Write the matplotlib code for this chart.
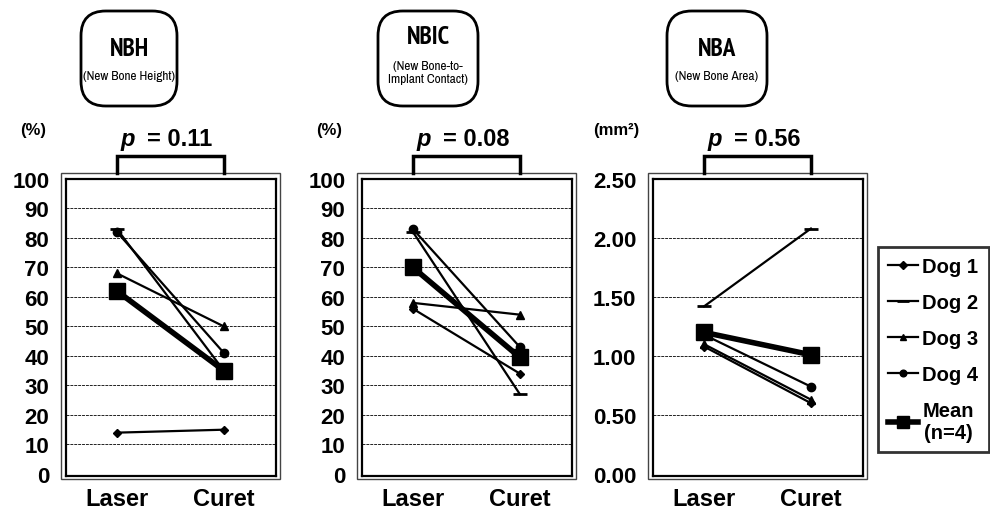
import numpy as np
import matplotlib
matplotlib.use('Agg')
import matplotlib.pyplot as plt
import matplotlib.font_manager as fm
from matplotlib.patches import Rectangle, FancyBboxPatch
from matplotlib.lines import Line2D
from matplotlib.transforms import ScaledTranslation

# data
categories = ['Laser', 'Curet']
dog_labels = ['Dog 1', 'Dog 2', 'Dog 3', 'Dog 4']

nbh_laser = [14, 83, 68, 82]
nbh_curet = [15, 35, 50, 41]
nbh_mean = [62, 35]

nbic_laser = [56, 82, 58, 83]
nbic_curet = [34, 27, 54, 43]
nbic_mean = [70, 39.5]

nba_laser = [1.08, 1.42, 1.10, 1.18]
nba_curet = [0.60, 2.08, 0.63, 0.74]
nba_mean = [1.20, 1.01]

p_values = ['0.11', '0.08', '0.56']
titles = ['NBH', 'NBIC', 'NBA']
subtitles = ['(New Bone Height)', '(New Bone-to-\nImplant Contact)', '(New Bone Area)']
units = ['(%)', '(%)', '(mm²)']

plt.rcParams['font.family'] = ['Liberation Sans', 'DejaVu Sans']

# narrow faces for the title boxes (Arial Narrow look)
faces = {}
for f in fm.fontManager.ttflist:
    w = f.weight if isinstance(f.weight, int) else (700 if 'bold' in str(f.weight) else 400)
    faces.setdefault(f.name, set()).add(w)

preferred = ['Liberation Sans Narrow', 'Arial Narrow', 'Archivo Narrow', 'PT Sans Narrow',
             'Roboto Condensed', 'IBM Plex Sans Condensed']
sub_family = next((n for n in preferred if n in faces), 'Liberation Sans')
title_family = next((n for n in preferred if n in faces and max(faces[n]) >= 600),
                    'Liberation Sans')
title_size = 18 if title_family != 'Liberation Sans' else 14
sub_size = 9.6 if sub_family != 'Liberation Sans' else 8.3

W, H = 990, 510
fig = plt.figure(figsize=(W / 100, H / 100), dpi=100)


def fx(px):
    return px / W


def fy(py):
    return 1 - py / H


dog_styles = [
    dict(marker='D', markersize=4.5),
    dict(marker='_', markersize=10, markeredgewidth=2),
    dict(marker='^', markersize=6),
    dict(marker='o', markersize=6),
]
mean_style = dict(marker='s', markersize=11, lw=4)

panels = [
    (66, nbh_laser, nbh_curet, nbh_mean, (0, 100), np.arange(0, 101, 10), '%d'),
    (362, nbic_laser, nbic_curet, nbic_mean, (0, 100), np.arange(0, 101, 10), '%d'),
    (653, nba_laser, nba_curet, nba_mean, (0, 2.5), np.arange(0, 2.51, 0.5), '%.2f'),
]

top, bottom, width = 180, 477, 210
height = bottom - top
x = np.arange(len(categories))

for i, (left, laser, curet, mean, ylim, ticks, fmt) in enumerate(panels):
    ax = fig.add_axes([fx(left), fy(bottom), width / W, height / H])
    span = ylim[1] - ylim[0]
    ax.set_ylim(ylim[0] - span * 0.007, ylim[1])
    ax.set_xlim(-0.477, 1.487)
    for y in ticks[1:-1]:
        ax.axhline(y, color='#222222', lw=0.7, ls=(0, (3, 1)), zorder=1)
    for j in range(len(dog_labels)):
        ax.plot(x, [laser[j], curet[j]], color='black', lw=1.6, zorder=3, **dog_styles[j])
    ax.plot(x, mean, color='black', zorder=4, **mean_style)

    ax.set_yticks(ticks)
    ax.set_yticklabels([fmt % t for t in ticks])
    ax.set_xticks(x)
    ax.set_xticklabels(categories)
    ax.tick_params(length=0)
    ax.tick_params(axis='y', pad=12, labelsize=16)
    ax.tick_params(axis='x', pad=8, labelsize=17)
    for lab in ax.get_xticklabels() + ax.get_yticklabels():
        lab.set_fontweight('bold')
    for s in ax.spines.values():
        s.set_linewidth(1.6)

    # thin outer frame
    ax.add_patch(Rectangle((-5 / width, -3 / height), 1 + 9 / width, 1 + 9 / height,
                           transform=ax.transAxes, fill=False, lw=1.0,
                           edgecolor='#444444', clip_on=False))

    # p-value bracket
    tr = ax.get_xaxis_transform()
    y0 = 1 + 6 / height
    y1 = 1 + 23 / height
    ax.plot([0, 0, 1, 1], [y0, y1, y1, y0], color='black', lw=2.5,
            transform=tr, clip_on=False, solid_joinstyle='miter')
    ty = 1 + 40 / height
    ax.text(0.5, ty, 'p', transform=tr + ScaledTranslation(-0.36, 0, fig.dpi_scale_trans),
            ha='right', va='center', fontsize=17, fontweight='bold', fontstyle='italic')
    ax.text(0.5, ty, '= ' + p_values[i],
            transform=tr + ScaledTranslation(-0.23, 0, fig.dpi_scale_trans),
            ha='left', va='center', fontsize=17, fontweight='bold')

    # unit label
    ux = -33 / width if i < 2 else -37 / width
    ax.text(ux, 1 + 50 / height, units[i], transform=ax.transAxes,
            ha='center', va='center', fontsize=12, fontweight='bold')

# title boxes
boxes = [(81, 177), (378, 478), (667, 767)]
for (bl, br), t, st in zip(boxes, titles, subtitles):
    bt, bb = 12, 107
    fig.patches.append(FancyBboxPatch((fx(bl), fy(bb)), (br - bl) / W, (bb - bt) / H,
                                      boxstyle='round,pad=0,rounding_size=0.025',
                                      transform=fig.transFigure, fill=False,
                                      lw=2, edgecolor='black',
                                      mutation_aspect=W / H))
    cx = fx((bl + br) / 2)
    if '\n' in st:
        ty, sy = 38, 73
    else:
        ty, sy = 50, 77
    fig.text(cx, fy(ty), t, ha='center', va='center', fontsize=title_size,
             fontweight='bold', family=title_family)
    fig.text(cx, fy(sy), st, ha='center', va='center', fontsize=sub_size,
             family=sub_family, linespacing=1.3)

# legend
handles = [Line2D([], [], color='black', lw=1.6, **s) for s in dog_styles]
handles.append(Line2D([], [], color='black', **mean_style))
leg = fig.legend(handles, dog_labels + ['Mean\n(n=4)'], loc='upper left',
                 bbox_to_anchor=(fx(878), fy(248)), frameon=True, fancybox=False,
                 prop={'weight': 'bold', 'size': 14.5}, handlelength=1.5,
                 handletextpad=0.2, borderpad=0.5, labelspacing=0.84,
                 borderaxespad=0, markerscale=0.8)
leg.get_frame().set_edgecolor('black')
leg.get_frame().set_linewidth(2)
leg.get_texts()[-1].set_multialignment('center')

fig.savefig('out.png', dpi=100)
